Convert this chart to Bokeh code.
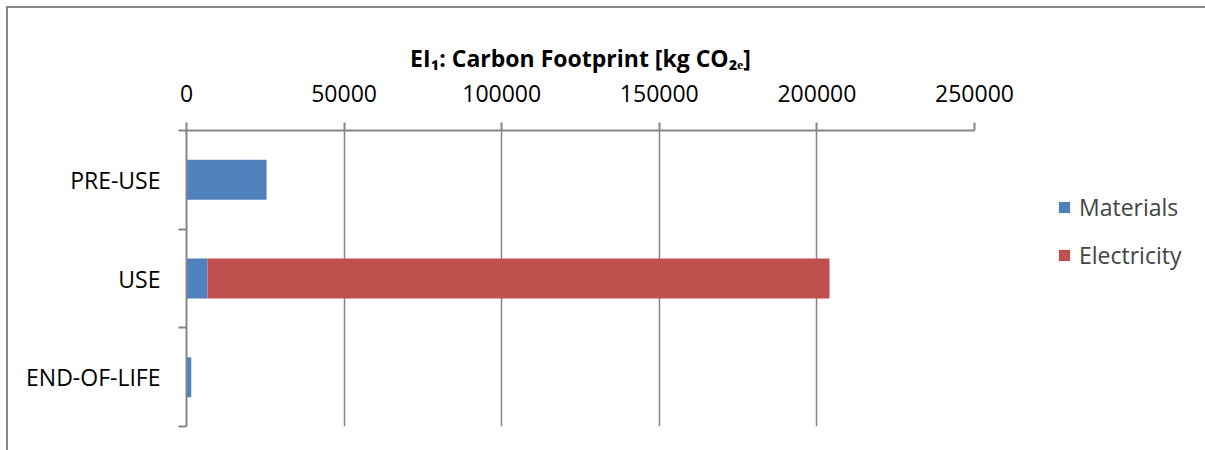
from bokeh.plotting import figure
from bokeh.models import (ColumnDataSource, Range1d, FixedTicker, NumeralTickFormatter,
                          Legend, LegendItem)
from bokeh.embed import file_html
from bokeh.resources import INLINE

# ---- data ----
categories = ["PRE-USE", "USE", "END-OF-LIFE"]          # top to bottom
materials = [25400, 6700, 1500]
electricity = [0, 197300, 0]
x_ticks = [0, 50000, 100000, 150000, 200000, 250000]
series_names = ["Materials", "Electricity"]
series_colors = ["#4F81BD", "#C0504D"]
title_text = "EI\u2081: Carbon Footprint [kg CO\u2082\u2091]"

n = len(categories)
ypos = [n - i - 0.5 for i in range(n)]
src = ColumnDataSource(dict(y=ypos, cat=categories, Materials=materials, Electricity=electricity))

FONT = "Open Sans"
GRAY = "#868686"

p = figure(width=1197, height=442, frame_width=788, frame_height=296,
           output_backend="svg", toolbar_location=None,
           x_range=Range1d(0, 250000), y_range=Range1d(0, n),
           x_axis_location="above", min_border_left=178, min_border_top=122,
           min_border_right=231, min_border_bottom=24)
p.styles = {"margin-left": "6px", "margin-top": "6px",
            "border-top": "2px solid #868686", "border-left": "2px solid #868686"}
p.outline_line_color = None
p.background_fill_color = "white"

rs = p.hbar_stack(series_names, y="y", height=0.405, color=series_colors, source=src,
                  line_color=None)

# x axis (above)
xa = p.xaxis[0]
xa.ticker = FixedTicker(ticks=x_ticks)
xa.formatter = NumeralTickFormatter(format="0")
xa.axis_line_color = GRAY
xa.axis_line_width = 2
xa.major_tick_line_color = GRAY
xa.major_tick_line_width = 2
xa.major_tick_out = 8
xa.major_tick_in = 0
xa.minor_tick_line_color = None
xa.major_label_text_font = FONT
xa.major_label_text_font_size = "23px"
xa.major_label_text_color = "black"
xa.major_label_standoff = 21
xa.axis_label = title_text
xa.axis_label_text_font = FONT
xa.axis_label_text_font_style = "bold"
xa.axis_label_text_font_size = "23px"
xa.axis_label_text_color = "black"
xa.axis_label_standoff = 8

# y axis
ya = p.yaxis[0]
ya.ticker = FixedTicker(ticks=ypos, minor_ticks=list(range(n + 1)))
ya.major_label_overrides = {yv: c for yv, c in zip(ypos, categories)}
ya.axis_line_color = GRAY
ya.axis_line_width = 2
ya.major_tick_out = 0
ya.major_tick_in = 0
ya.major_tick_line_color = None
ya.minor_tick_line_color = GRAY
ya.minor_tick_line_width = 2
ya.minor_tick_out = 8
ya.minor_tick_in = 0
ya.major_label_text_font = FONT
ya.major_label_text_font_size = "23px"
ya.major_label_text_color = "black"
ya.major_label_standoff = 18

p.xgrid.grid_line_color = GRAY
p.xgrid.grid_line_width = 1.5
p.ygrid.grid_line_color = None

legend = Legend(items=[LegendItem(label=nm, renderers=[r]) for nm, r in zip(series_names, rs)],
                location=(83, 155), orientation="vertical",
                glyph_width=14, glyph_height=14, label_text_font=FONT,
                label_text_font_size="23px", label_standoff=8, spacing=16,
                padding=0, margin=0, border_line_color=None,
                background_fill_alpha=0)
p.add_layout(legend, "right")

open("out.html", "w").write(file_html(p, INLINE))
